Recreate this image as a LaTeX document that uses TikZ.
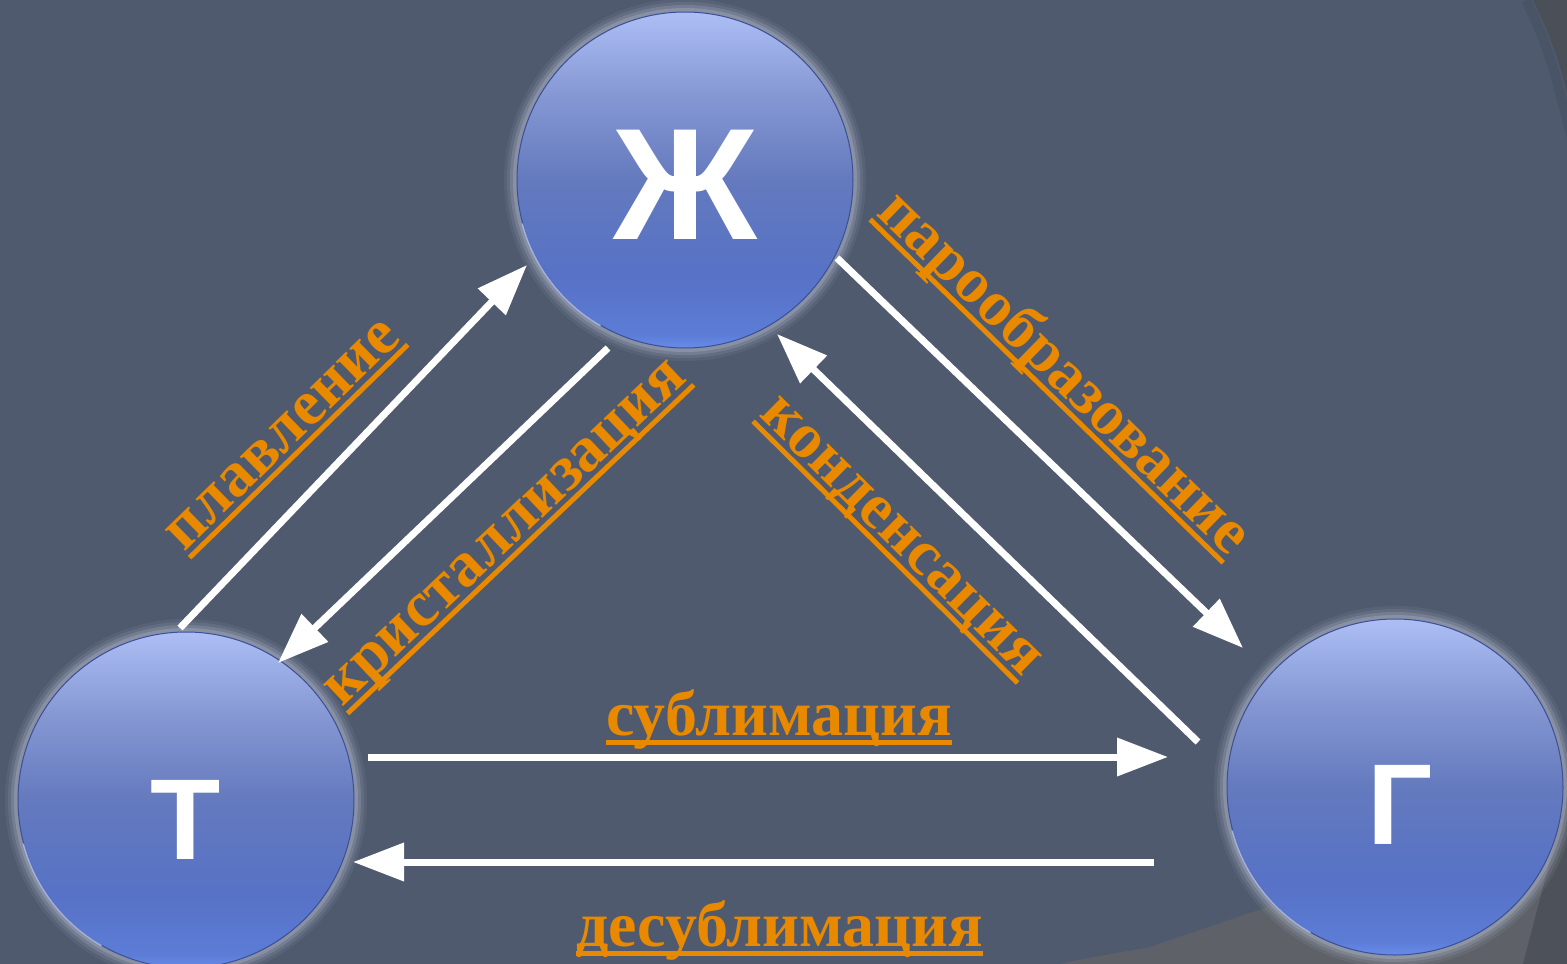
\documentclass[tikz,border=0pt]{standalone}
\usepackage{fontspec}
\setmainfont{Liberation Serif}
\newfontfamily\letterfont{Liberation Sans}
\usetikzlibrary{arrows.meta}
\definecolor{slate}{RGB}{79,90,110}
\definecolor{darkgr}{RGB}{74,79,88}
\definecolor{bandgr}{RGB}{94,98,104}
\definecolor{rightgr}{RGB}{77,81,89}
\definecolor{halo}{RGB}{168,176,194}
\definecolor{rim}{RGB}{60,78,150}
\definecolor{labor}{RGB}{232,137,0}
\definecolor{hilite}{RGB}{190,205,250}
\definecolor{cBa}{RGB}{104,140,234}
\definecolor{cBb}{RGB}{92,124,214}
\definecolor{cBc}{RGB}{87,114,198}
\definecolor{cBd}{RGB}{100,122,190}
\definecolor{cBe}{RGB}{132,150,210}
\definecolor{cBf}{RGB}{172,190,244}
\pgfdeclareverticalshading{sphereblue}{100bp}{color(0bp)=(cBa); color(25bp)=(cBa); color(27bp)=(cBb); color(36bp)=(cBc); color(50bp)=(cBd); color(62bp)=(cBe); color(75bp)=(cBf); color(100bp)=(cBf)}
\newcommand\ulin[1]{\setbox0\hbox{#1}\rlap{\rule[-10pt]{\wd0}{5pt}}\box0}
\begin{document}
\begin{tikzpicture}[x=1pt,y=-1pt,
  arr/.style={draw=white, line width=7pt, -{Triangle[length=51pt,width=37pt]}},
  lab/.style={text=labor, font=\fontsize{64}{70}\selectfont\bfseries, inner sep=0pt, anchor=base},
  ballstyle/.style={circle, minimum size=336pt, inner sep=0pt, shading=sphereblue, draw=rim, line width=1pt},
  letter/.style={text=white, inner sep=0pt, anchor=base},
  glow/.style={fill=halo, opacity=#1}
]
\useasboundingbox (0,0) rectangle (1567,964);
\clip (0,0) rectangle (1567,964);
% background
\fill[slate] (0,0) rectangle (1567,964);
\fill[bandgr] (1060,964) .. controls (1100,955) and (1125,952) .. (1150,947) -- (1567,805) -- (1567,964) -- cycle;
\fill[rightgr] (1523,964) -- (1567,795) -- (1567,964) -- cycle;
\draw[black, opacity=0.06, line width=10pt] (1526,0) .. controls (1541,30) and (1552,60) .. (1560,93) -- (1575,150);
\fill[darkgr] (1533,0) .. controls (1548,30) and (1559,60) .. (1567,93) -- (1582,150) -- (1590,0) -- cycle;
% glows
\foreach \p in {(685,180),(186,800),(1395,787)}{
  \fill[glow=0.10] \p circle[radius=181pt];
  \fill[glow=0.15] \p circle[radius=178pt];
  \fill[glow=0.25] \p circle[radius=175pt];
  \fill[glow=0.40] \p circle[radius=172pt];
}
% circles
\node[ballstyle] (Zh) at (685,180) {};
\node[ballstyle] (T) at (186,800) {};
\node[ballstyle] (G) at (1395,787) {};
\draw[hilite, line width=1.5pt, opacity=0.7] (Zh.195) arc[start angle=195, end angle=240, radius=168pt];
\draw[hilite, line width=1.5pt, opacity=0.7] (T.195) arc[start angle=195, end angle=240, radius=168pt];
\draw[hilite, line width=1.5pt, opacity=0.7] (G.195) arc[start angle=195, end angle=240, radius=168pt];
% letters
\node[letter, font=\fontsize{159}{160}\selectfont\letterfont\bfseries] (ZhL) at (685,239) {Ж};
\node[letter, font=\fontsize{115}{116}\selectfont\letterfont\bfseries] (TL) at (186,859) {Т};
\node[letter, font=\fontsize{115}{116}\selectfont\letterfont\bfseries] (GL) at (1400,844) {Г};
% arrow end points
\coordinate (a1s) at (180,628);  \coordinate (a1e) at (527,265);
\coordinate (a2s) at (608,348);  \coordinate (a2e) at (278,663);
\coordinate (a3s) at (837,258);  \coordinate (a3e) at (1243,648);
\coordinate (a4s) at (1198,742); \coordinate (a4e) at (777,334);
\coordinate (a5s) at (368,757);  \coordinate (a5e) at (1168,757);
\coordinate (a6s) at (1154,862); \coordinate (a6e) at (353,862);
\draw[arr] (a1s) -- (a1e);
\draw[arr] (a2s) -- (a2e);
\draw[arr] (a3s) -- (a3e);
\draw[arr] (a4s) -- (a4e);
\draw[arr] (a5s) -- (a5e);
\draw[arr] (a6s) -- (a6e);
% labels
\node[lab, rotate=44.3] (Lpl) at (293.4,445.8) {\ulin{плавление}};
\node[lab, rotate=43.5] (Lkr) at (515.5,543.7) {\ulin{кристаллизация}};
\node[lab, rotate=-44.2] (Lpa) at (1052,385.8) {\ulin{парообразование}};
\node[lab, rotate=-44.7] (Lko) at (890.6,546.8) {\ulin{конденсация}};
\node[lab] (Lsu) at (779,735) {\ulin{сублимация}};
\node[lab] (Lde) at (779.5,946) {\ulin{десублимация}};
\end{tikzpicture}
\end{document}
